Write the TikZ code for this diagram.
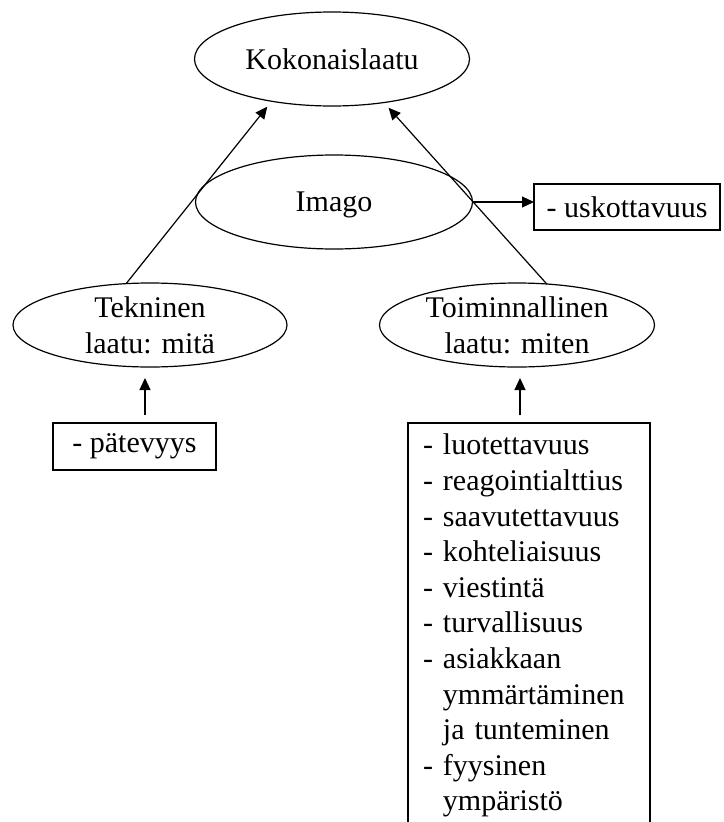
\documentclass[tikz,border=0pt]{standalone}
\usepackage{fontspec}
\setmainfont{Liberation Serif}
\usetikzlibrary{shapes.geometric,arrows.meta}
\begin{document}
\begin{tikzpicture}[x=1pt,y=-1pt,>={Triangle[length=12pt,width=11pt]},line width=1.2pt,
            every node/.style={font=\fontsize{30}{35.6}\selectfont, outer sep=0pt},
            oval/.style={draw, ellipse, inner sep=0pt, align=center},
            listbox/.style={draw, rectangle}]
            \useasboundingbox (0,0) rectangle (723,822);
            \node[oval, minimum width=275, minimum height=94] (kok) at (332,59) {Kokonaislaatu};
            \node[oval, minimum width=277, minimum height=94, text depth=0pt] (imago) at (334,202) {Imago};
            \node[listbox, minimum width=186, minimum height=46] (usk) at (627,207) {- uskottavuus};
            \node[oval, minimum width=274, minimum height=84] (tek) at (150,325) {Tekninen\\laatu: mitä};
            \node[oval, minimum width=275, minimum height=84] (toim) at (517,325) {Toiminnallinen\\laatu: miten};
            \node[listbox, minimum width=163, minimum height=47] (pat) at (134.5,446.5) {- pätevyys};
            \node[listbox, anchor=north west, text width=212, inner xsep=15, inner ysep=11, align=left] (laatu) at (408,423)
                {- luotettavuus\\- reagointialttius\\- saavutettavuus\\- kohteliaisuus\\- viestintä\\- turvallisuus\\- asiakkaan\\\hphantom{- }ymmärtäminen\\\hphantom{- }ja tunteminen\\- fyysinen\\\hphantom{- }ympäristö};
            \draw[->, shorten >=7pt] (tek.120) -- (kok.215);
            \draw[->, shorten >=7pt] (toim.54) -- (kok.320);
            \draw[->] (imago.east) -- (imago.east -| usk.west);
            \draw[->, shorten <=8pt, shorten >=11pt] ([xshift=-5pt]tek.south |- pat.north) -- ([xshift=-5pt]tek.south);
            \draw[->, shorten <=8pt, shorten >=11pt] ([xshift=3pt]toim.south |- laatu.north) -- ([xshift=3pt]toim.south);
        \end{tikzpicture}
\end{document}
